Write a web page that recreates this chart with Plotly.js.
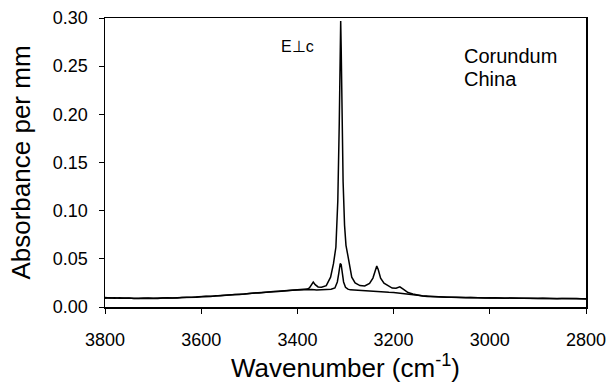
<!DOCTYPE html>
<html>
<head>
<meta charset="utf-8">
<script src="https://cdn.plot.ly/plotly-3.0.1.min.js"></script>
<style>html,body{margin:0;padding:0;background:#fff;}#chart{width:610px;height:388px;}</style>
</head>
<body>
<div id="chart"></div>
<script>
// E⊥c spectrum (upper trace, strong 3310 band)
var perpWavenumber = [
  3800,3790,3780,3770,3760,3750,3740,3730,3720,3710,3700,3690,3680,3670,3660,3650,3640,3630,3620,3610,
  3600,3590,3580,3570,3560,3550,3540,3530,3520,3510,3500,3490,3480,3470,3460,3450,3440,3430,3420,3410,
  3400,3390,3380,3375,3370,3367,3363,3357,3350,3340,3331,3325,3320,3316,3313,3311,3310,3309,3307,3305,
  3302,3299,3296,3292,3287,3280,3270,3260,3250,3243,3238,3235,3232,3227,3220,3212,3203,3195,3187,3180,
  3170,3160,3150,3140,3130,3120,3110,3100,3090,3080,3070,3060,3050,3040,3030,3020,3010,3000,2990,2980,
  2970,2960,2950,2940,2930,2920,2910,2900,2890,2880,2870,2860,2850,2840,2830,2820,2810,2800
];
var perpAbsorbance = [
  0.0098,0.0093,0.0096,0.0091,0.0094,0.0090,0.0093,0.0089,0.0092,0.0090,0.0093,0.0089,0.0093,0.0092,0.0096,0.0094,0.0099,0.0098,0.0103,0.0102,
  0.0107,0.0108,0.0113,0.0114,0.0119,0.0121,0.0126,0.0128,0.0134,0.0135,0.0141,0.0143,0.0149,0.0151,0.0156,0.0158,0.0163,0.0166,0.0171,0.0173,
  0.0179,0.0181,0.0186,0.0198,0.0235,0.0258,0.0232,0.0208,0.0205,0.0222,0.0310,0.0450,0.0620,0.1100,0.1900,0.2620,0.2970,0.2700,0.2000,0.1300,
  0.0850,0.0640,0.0560,0.0430,0.0310,0.0250,0.0222,0.0218,0.0245,0.0300,0.0380,0.0425,0.0390,0.0300,0.0248,0.0222,0.0197,0.0195,0.0210,0.0185,
  0.0150,0.0135,0.0122,0.0114,0.0109,0.0106,0.0104,0.0102,0.0103,0.0100,0.0101,0.0099,0.0100,0.0097,0.0098,0.0096,0.0097,0.0094,0.0095,0.0093,
  0.0094,0.0091,0.0093,0.0090,0.0092,0.0089,0.0091,0.0088,0.0090,0.0087,0.0089,0.0086,0.0088,0.0090,0.0087,0.0088,0.0085,0.0086
];
// second spectrum (lower trace, weak 3310 band)
var paraWavenumber = [
  3800,3790,3780,3770,3760,3750,3740,3730,3720,3710,3700,3690,3680,3670,3660,3650,3640,3630,3620,3610,
  3600,3590,3580,3570,3560,3550,3540,3530,3520,3510,3500,3490,3480,3470,3460,3450,3440,3430,3420,3410,
  3400,3390,3380,3370,3360,3350,3340,3330,3322,3317,3314,3311,3309,3307,3304,3300,3295,3290,3280,3270,
  3260,3250,3240,3230,3220,3210,3200,3190,3180,3170,3160,3150,3140,3130,3120,3110,3100,3090,3080,3070,
  3060,3050,3040,3030,3020,3010,3000,2990,2980,2970,2960,2950,2940,2930,2920,2910,2900,2890,2880,2870,
  2860,2850,2840,2830,2820,2810,2800
];
var paraAbsorbance = [
  0.0092,0.0097,0.0091,0.0095,0.0090,0.0094,0.0089,0.0093,0.0090,0.0094,0.0091,0.0094,0.0090,0.0095,0.0093,0.0098,0.0097,0.0102,0.0101,0.0106,
  0.0105,0.0111,0.0110,0.0117,0.0116,0.0123,0.0124,0.0131,0.0131,0.0138,0.0139,0.0146,0.0146,0.0153,0.0154,0.0160,0.0161,0.0168,0.0169,0.0175,
  0.0176,0.0180,0.0178,0.0181,0.0177,0.0180,0.0178,0.0184,0.0198,0.0260,0.0350,0.0450,0.0440,0.0360,0.0260,0.0205,0.0185,0.0178,0.0174,0.0172,
  0.0169,0.0166,0.0163,0.0160,0.0156,0.0152,0.0150,0.0143,0.0138,0.0133,0.0128,0.0123,0.0118,0.0114,0.0110,0.0107,0.0104,0.0101,0.0102,0.0099,
  0.0100,0.0097,0.0099,0.0096,0.0097,0.0094,0.0096,0.0093,0.0095,0.0092,0.0094,0.0091,0.0093,0.0090,0.0091,0.0089,0.0090,0.0087,0.0089,0.0087,
  0.0088,0.0086,0.0089,0.0086,0.0087,0.0085,0.0084
];
var xTickVals = [3800, 3600, 3400, 3200, 3000, 2800];
var yTickVals = [0, 0.05, 0.10, 0.15, 0.20, 0.25, 0.30];

var font = 'Liberation Sans, Arial, sans-serif';
var traces = [
  {x: perpWavenumber, y: perpAbsorbance, type: 'scatter', mode: 'lines', line: {color: '#000', width: 1.5}, hoverinfo: 'skip'},
  {x: paraWavenumber, y: paraAbsorbance, type: 'scatter', mode: 'lines', line: {color: '#000', width: 1.5}, hoverinfo: 'skip'}
];
var layout = {
  width: 610, height: 388,
  margin: {l: 105, r: 24, t: 18, b: 81},
  paper_bgcolor: '#fff', plot_bgcolor: '#fff',
  showlegend: false,
  font: {family: font, color: '#000'},
  xaxis: {
    range: [3800, 2800], tickvals: xTickVals, ticktext: xTickVals.map(String),
    ticks: 'outside', ticklen: 5, tickwidth: 1, tickcolor: '#000',
    showline: true, mirror: true, linecolor: '#000', linewidth: 1.5,
    showgrid: false, zeroline: false, ticklabelstandoff: 11,
    tickfont: {size: 18},
    title: {text: 'Wavenumber (cm<sup>-1</sup>)', font: {size: 26}, standoff: 6}
  },
  yaxis: {
    range: [0, 0.30], tickvals: yTickVals, tickformat: '.2f',
    ticks: 'outside', ticklen: 5, tickwidth: 1, tickcolor: '#000',
    showline: true, mirror: true, linecolor: '#000', linewidth: 1.5,
    showgrid: false, zeroline: false, ticklabelstandoff: 7,
    tickfont: {size: 18},
    title: {text: 'Absorbance per mm', font: {size: 26}, standoff: 15}
  },
  annotations: [
    {xref: 'paper', yref: 'paper', x: 0.401, y: 0.903, text: 'E\u22A5c', showarrow: false, font: {size: 16}, xanchor: 'center', yanchor: 'middle'},
    {xref: 'paper', yref: 'paper', x: 0.742, y: 0.8685, text: 'Corundum', showarrow: false, font: {size: 20}, xanchor: 'left', yanchor: 'middle'},
    {xref: 'paper', yref: 'paper', x: 0.742, y: 0.789, text: 'China', showarrow: false, font: {size: 20}, xanchor: 'left', yanchor: 'middle'}
  ]
};
Plotly.newPlot('chart', traces, layout, {displayModeBar: false, staticPlot: true});
</script>
</body>
</html>
